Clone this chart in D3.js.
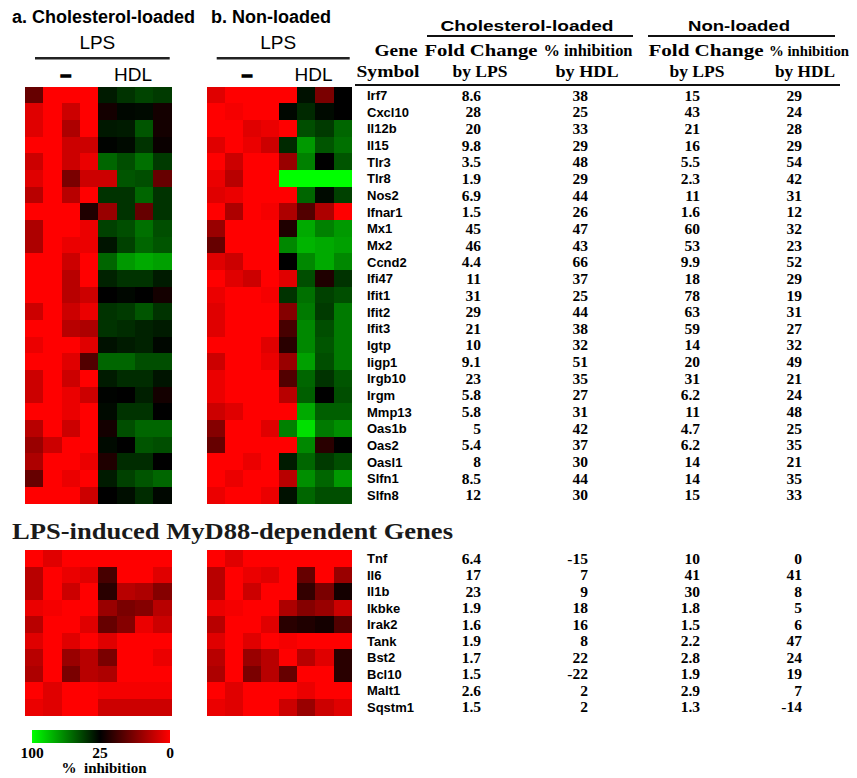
<!DOCTYPE html>
<html>
<head>
<meta charset="utf-8">
<script src="https://cdn.jsdelivr.net/npm/d3@7"></script>
<style>
  html, body { margin: 0; padding: 0; background: #fff; }
  svg { display: block; }
</style>
</head>
<body>
<script>
// ---- Data -----------------------------------------------------------------
const genesIFN = ["Irf7","Cxcl10","Il12b","Il15","Tlr3","Tlr8","Nos2","Ifnar1","Mx1","Mx2",
  "Ccnd2","Ifi47","Ifit1","Ifit2","Ifit3","Igtp","Iigp1","Irgb10","Irgm","Mmp13",
  "Oas1b","Oas2","Oasl1","Slfn1","Slfn8"];
const genesMyD88 = ["Tnf","Il6","Il1b","Ikbke","Irak2","Tank","Bst2","Bcl10","Malt1","Sqstm1"];

// Table columns: fold change by LPS / % inhibition by HDL, cholesterol-loaded (CL) and non-loaded (NL)
const foldCL_IFN   = ["8.6","28","20","9.8","3.5","1.9","6.9","1.5","45","46","4.4","11","31","29","21","10","9.1","23","5.8","5.8","5","5.4","8","8.5","12"];
const inhibCL_IFN  = ["38","25","33","29","48","29","44","26","47","43","66","37","25","44","38","32","51","35","27","31","42","37","30","44","30"];
const foldNL_IFN   = ["15","43","21","16","5.5","2.3","11","1.6","60","53","9.9","18","78","63","59","14","20","31","6.2","11","4.7","6.2","14","14","15"];
const inhibNL_IFN  = ["29","24","28","29","54","42","31","12","32","23","52","29","19","31","27","32","49","21","24","48","25","35","21","35","33"];

const foldCL_MyD   = ["6.4","17","23","1.9","1.6","1.9","1.7","1.5","2.6","1.5"];
const inhibCL_MyD  = ["-15","7","9","18","16","8","22","-22","2","2"];
const foldNL_MyD   = ["10","41","30","1.8","1.5","2.2","2.8","1.9","2.9","1.3"];
const inhibNL_MyD  = ["0","41","8","5","6","47","24","19","7","-14"];

// Heat map cells on the % inhibition colour scale (0 red, 25 black, 100 green);
// columns: 4 LPS replicates, then 4 LPS + HDL replicates
const heatCL_IFN = [
  [15,0,0,0,33,40,45,42],
  [3,0,5,0,23,27,28,23],
  [3,0,8,0,32,33,50,23],
  [0,0,5,5,26,28,40,24],
  [5,0,5,2,55,48,58,42],
  [3,0,13,5,5,50,48,15],
  [7,0,7,0,40,40,55,40],
  [0,0,0,22,10,40,15,40],
  [8,0,0,2,44,48,58,48],
  [8,0,2,2,31,44,55,50],
  [0,0,5,0,55,70,75,72],
  [0,0,7,0,35,40,40,33],
  [0,0,7,5,25,27,25,23],
  [5,0,5,2,40,42,50,40],
  [0,0,7,8,40,38,35,33],
  [2,0,0,3,30,33,35,27],
  [0,0,3,17,55,55,48,48],
  [5,0,5,0,33,38,38,31],
  [5,0,2,5,26,25,34,23],
  [0,0,2,0,28,40,40,25],
  [7,0,5,0,23,48,55,55],
  [10,5,0,0,28,25,50,48],
  [8,0,0,2,22,38,38,25],
  [15,0,2,0,33,44,50,55],
  [0,0,0,5,25,29,38,27]
];
const heatNL_IFN = [
  [3,0,0,0,0,30,13,25],
  [0,1,0,0,27,37,28,25],
  [0,0,3,2,0,48,42,55],
  [3,0,2,5,37,70,50,58],
  [0,5,0,0,10,63,25,50],
  [2,7,0,0,100,100,100,100],
  [3,2,0,0,0,55,28,44],
  [0,8,0,1,8,17,8,0],
  [10,0,0,0,22,75,63,70],
  [15,0,0,0,65,78,75,72],
  [3,5,0,0,25,65,75,65],
  [0,3,5,0,3,48,22,40],
  [2,0,0,1,40,58,44,48],
  [3,0,0,0,12,61,42,61],
  [3,0,0,0,18,65,48,61],
  [0,0,0,3,21,65,50,61],
  [5,0,0,2,10,72,48,61],
  [2,0,0,0,17,55,40,50],
  [2,0,0,0,7,53,25,48],
  [5,3,0,0,0,75,53,53],
  [12,0,0,3,63,91,61,67],
  [15,0,0,0,0,65,21,25],
  [0,0,2,0,33,55,42,48],
  [0,2,0,0,7,67,55,70],
  [2,0,0,2,30,55,48,48]
];
const heatCL_MyD = [
  [0,3,0,0,0,0,0,0],
  [7,0,2,3,18,0,0,3],
  [7,0,5,0,21,7,8,12],
  [2,1,0,0,10,13,12,7],
  [7,0,0,3,15,12,2,5],
  [3,0,3,0,3,0,0,0],
  [7,0,10,7,13,0,0,2],
  [8,0,13,7,8,0,0,0],
  [0,3,0,0,1,1,1,1],
  [2,3,0,0,5,5,5,5]
];
const heatNL_MyD = [
  [0,3,0,0,0,0,0,0],
  [7,0,2,3,0,15,0,10],
  [7,0,5,0,0,20,13,23],
  [2,1,0,0,8,12,10,5],
  [7,0,0,3,21,22,23,17],
  [3,0,3,0,1,0,0,0],
  [7,0,10,7,0,7,3,21],
  [8,0,13,7,15,0,0,21],
  [0,3,0,0,0,2,0,0],
  [2,3,0,0,5,10,5,3]
];

const panelTitles = ["a. Cholesterol-loaded", "b. Non-loaded"];
const treatmentLabels = ["\u2013", "HDL"];
const legendTicks = [100, 25, 0];

// ---- Setup ----------------------------------------------------------------
const W = 857, H = 778;
const SANS = "'Liberation Sans', Arial, Helvetica, sans-serif";
const SERIF = "'Liberation Serif', 'Times New Roman', Times, serif";

const svg = d3.select("body").append("svg")
  .attr("width", W).attr("height", H)
  .attr("viewBox", `0 0 ${W} ${H}`);
svg.append("rect").attr("width", W).attr("height", H).attr("fill", "#fff");

const color = d3.scaleLinear()
  .domain([0, 25, 100])
  .range(["#ff0000", "#000000", "#00ff00"])
  .interpolate(d3.interpolateRgb)
  .clamp(true);

const colIdx = d3.range(8);
const colsLeft  = d3.scaleBand().domain(colIdx).range([25, 171.7]);
const colsRight = d3.scaleBand().domain(colIdx).range([206.7, 351.7]);
const rowsTop = d3.scaleBand().domain(genesIFN).range([86.7, 503.3]);
const rowsBot = d3.scaleBand().domain(genesMyD88).range([550, 715]);

function drawHeat(matrix, genes, rows, cols) {
  const g = svg.append("g").attr("shape-rendering", "crispEdges");
  matrix.forEach((row, i) => {
    g.selectAll(null).data(row).enter().append("rect")
      .attr("x", (d, j) => cols(j))
      .attr("y", rows(genes[i]))
      .attr("width", cols.bandwidth() + 0.6)
      .attr("height", rows.bandwidth() + 0.6)
      .attr("fill", d => color(d));
  });
}
drawHeat(heatCL_IFN, genesIFN, rowsTop, colsLeft);
drawHeat(heatNL_IFN, genesIFN, rowsTop, colsRight);
drawHeat(heatCL_MyD, genesMyD88, rowsBot, colsLeft);
drawHeat(heatNL_MyD, genesMyD88, rowsBot, colsRight);

// ---- Heat map headers -----------------------------------------------------
const titleX = [12, 211];
panelTitles.forEach((t, i) => {
  svg.append("text").attr("x", titleX[i]).attr("y", 23)
    .attr("font-family", SANS).attr("font-weight", "bold").attr("font-size", 18)
    .text(t);
});

[colsLeft, colsRight].forEach(cols => {
  const x0 = cols.range()[0], x1 = cols.range()[1];
  const mid = (x0 + x1) / 2;
  svg.append("text").attr("x", mid - 1).attr("y", 49)
    .attr("text-anchor", "middle").attr("font-family", SANS).attr("font-size", 19)
    .text("LPS");
  svg.append("line").attr("x1", x0 + 10).attr("x2", x1 - 2)
    .attr("y1", 58.3).attr("y2", 58.3)
    .attr("stroke", "#222").attr("stroke-width", 2.5);
  treatmentLabels.forEach((lab, k) => {
    const cx = (cols(k * 4) + cols(k * 4 + 3) + cols.bandwidth()) / 2;
    const t = svg.append("text").attr("x", cx + (k === 0 ? 4 : -2)).attr("y", 81)
      .attr("text-anchor", "middle").attr("font-family", SANS).attr("font-size", 19)
      .text(lab);
    if (k === 0) t.attr("font-weight", "bold").attr("stroke", "#000").attr("stroke-width", 1.6);
  });
});

// ---- Table ----------------------------------------------------------------
function stretched(x, y, str, len, family, size) {
  return svg.append("text").attr("x", x).attr("y", y)
    .attr("text-anchor", "middle")
    .attr("font-family", family).attr("font-weight", "bold").attr("font-size", size)
    .attr("textLength", len).attr("lengthAdjust", "spacingAndGlyphs")
    .text(str);
}

stretched(527, 31, "Cholesterol-loaded", 173, SANS, 15);
stretched(739, 31, "Non-loaded", 102, SANS, 15);
svg.append("line").attr("x1", 427).attr("x2", 633).attr("y1", 36).attr("y2", 36)
  .attr("stroke", "#111").attr("stroke-width", 2);
svg.append("line").attr("x1", 648).attr("x2", 835).attr("y1", 36).attr("y2", 36)
  .attr("stroke", "#111").attr("stroke-width", 2);

stretched(396, 56, "Gene", 43, SERIF, 16);
stretched(481, 56, "Fold Change", 113, SERIF, 16);
stretched(588, 56, "% inhibition", 89, SERIF, 16);
stretched(706, 56, "Fold Change", 115, SERIF, 16);
stretched(809, 56, "% inhibition", 80, SERIF, 15);
stretched(388, 77, "Symbol", 63, SERIF, 16);
stretched(480, 77, "by LPS", 55, SERIF, 16);
stretched(587, 77, "by HDL", 63, SERIF, 16);
stretched(697, 77, "by LPS", 55, SERIF, 16);
stretched(805, 77, "by HDL", 60, SERIF, 16);
svg.append("line").attr("x1", 355).attr("x2", 840).attr("y1", 85).attr("y2", 85)
  .attr("stroke", "#111").attr("stroke-width", 2);

const valueCols = [481, 588, 700, 802];
function drawTable(genes, rows, cols) {
  const g = svg.append("g");
  genes.forEach((gene, i) => {
    const y = rows(gene) + rows.bandwidth() / 2 + 5;
    g.append("text").attr("x", 367).attr("y", y)
      .attr("font-family", SANS).attr("font-weight", "bold").attr("font-size", 13)
      .text(gene);
    cols.forEach((arr, c) => {
      g.append("text").attr("x", valueCols[c]).attr("y", y + 0.5)
        .attr("text-anchor", "end")
        .attr("font-family", SERIF).attr("font-weight", "bold").attr("font-size", 15.5)
        .text(arr[i]);
    });
  });
}
drawTable(genesIFN, rowsTop, [foldCL_IFN, inhibCL_IFN, foldNL_IFN, inhibNL_IFN]);
drawTable(genesMyD88, rowsBot, [foldCL_MyD, inhibCL_MyD, foldNL_MyD, inhibNL_MyD]);

// ---- Section title --------------------------------------------------------
svg.append("text").attr("x", 12).attr("y", 539)
  .attr("font-family", SERIF).attr("font-weight", "bold").attr("font-size", 23)
  .attr("fill", "#1a1a1a")
  .attr("textLength", 441).attr("lengthAdjust", "spacingAndGlyphs")
  .text("LPS-induced MyD88-dependent Genes");

// ---- Colour legend --------------------------------------------------------
const legX = d3.scaleLinear().domain([100, 25, 0]).range([32, 100, 170]);
const grad = svg.append("defs").append("linearGradient").attr("id", "inhibGrad")
  .attr("x1", "0%").attr("x2", "100%").attr("y1", "0%").attr("y2", "0%");
legendTicks.forEach(v => {
  grad.append("stop")
    .attr("offset", (legX(v) - legX(100)) / (legX(0) - legX(100)))
    .attr("stop-color", color(v));
});
svg.append("rect").attr("x", legX(100)).attr("y", 730)
  .attr("width", legX(0) - legX(100)).attr("height", 13)
  .attr("fill", "url(#inhibGrad)");
legendTicks.forEach(v => {
  svg.append("text").attr("x", legX(v)).attr("y", 758)
    .attr("text-anchor", "middle")
    .attr("font-family", SERIF).attr("font-weight", "bold").attr("font-size", 15.5)
    .text(v);
});
svg.append("text").attr("x", 104).attr("y", 773)
  .attr("text-anchor", "middle")
  .attr("font-family", SERIF).attr("font-weight", "bold").attr("font-size", 15)
  .attr("xml:space", "preserve")
  .text("%  inhibition");
</script>
</body>
</html>
